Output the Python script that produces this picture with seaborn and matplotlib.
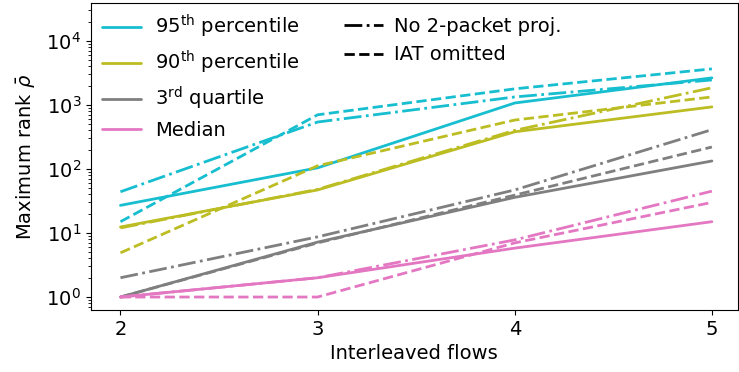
import matplotlib
matplotlib.use("Agg")
import matplotlib.pyplot as plt
from matplotlib.lines import Line2D
import pandas as pd
import seaborn as sns

# values
flows = [2, 3, 4, 5]

p95_full = [27, 104, 1070, 2640]
p95_no2pkt = [44, 540, 1330, 2450]
p95_noiat = [15, 700, 1780, 3650]

p90_full = [12.4, 47, 380, 930]
p90_no2pkt = [12, 48, 400, 1850]
p90_noiat = [4.9, 112, 580, 1330]

q3_full = [1, 7.2, 36, 133]
q3_no2pkt = [2, 8.7, 47, 410]
q3_noiat = [1, 7, 39, 220]

med_full = [1, 2, 5.8, 15]
med_no2pkt = [1, 2, 7.8, 45]
med_noiat = [1, 1, 7, 30]

stats = ["95th percentile", "90th percentile", "3rd quartile", "Median"]
stat_labels = ["95$^{\\mathrm{th}}$ percentile", "90$^{\\mathrm{th}}$ percentile",
               "3$^{\\mathrm{rd}}$ quartile", "Median"]
colors = ["#17becf", "#bcbd22", "#7f7f7f", "#e377c2"]
variants = ["full", "No 2-packet proj.", "IAT omitted"]

series = {
    ("95th percentile", "full"): p95_full,
    ("95th percentile", "No 2-packet proj."): p95_no2pkt,
    ("95th percentile", "IAT omitted"): p95_noiat,
    ("90th percentile", "full"): p90_full,
    ("90th percentile", "No 2-packet proj."): p90_no2pkt,
    ("90th percentile", "IAT omitted"): p90_noiat,
    ("3rd quartile", "full"): q3_full,
    ("3rd quartile", "No 2-packet proj."): q3_no2pkt,
    ("3rd quartile", "IAT omitted"): q3_noiat,
    ("Median", "full"): med_full,
    ("Median", "No 2-packet proj."): med_no2pkt,
    ("Median", "IAT omitted"): med_noiat,
}

rows = []
for (stat, var), vals in series.items():
    for x, v in zip(flows, vals):
        rows.append({"flows": x, "rank": v, "stat": stat, "variant": var})
df = pd.DataFrame(rows)

sns.set_style("ticks", {"axes.edgecolor": "black", "text.color": "black",
                        "axes.labelcolor": "black", "xtick.color": "black",
                        "ytick.color": "black"})
plt.rcParams["font.family"] = ["DejaVu Sans"]
plt.rcParams["xtick.major.size"] = 3.5
plt.rcParams["ytick.major.size"] = 3.5
plt.rcParams["ytick.minor.size"] = 2
plt.rcParams["axes.linewidth"] = 0.8

fig = plt.figure(figsize=(7.39, 3.72), dpi=100)
ax = fig.add_axes([0.123, 0.167, 0.875, 0.825])

dashes = {"full": "", "No 2-packet proj.": (6.4, 1.6, 1, 1.6), "IAT omitted": (3.7, 1.6)}
sns.lineplot(data=df, x="flows", y="rank", hue="stat", style="variant",
             hue_order=stats, style_order=variants, palette=colors,
             dashes=dashes, linewidth=2, legend=False, ax=ax)

ax.set_yscale("log")
ax.set_ylim(0.63, 39000)
ax.set_xlim(1.85, 5.13)
ax.set_xticks(flows)
ax.tick_params(labelsize=14)
ax.set_xlabel("Interleaved flows", fontsize=14)
ax.set_ylabel("Maximum rank $\\bar{\\rho}$", fontsize=14, labelpad=7)
for s in ax.spines.values():
    s.set_visible(True)

h1 = [Line2D([], [], color=c, lw=2) for c in colors]
leg1 = ax.legend(h1, stat_labels, loc="upper left", bbox_to_anchor=(-0.004, 1.012),
                 frameon=False, fontsize=14, handlelength=2.0, handletextpad=0.75,
                 labelspacing=0.45, borderaxespad=0.3)
ax.add_artist(leg1)
h2 = [Line2D([], [], color="black", lw=2, dashes=dashes[v]) for v in variants[1:]]
ax.legend(h2, variants[1:], loc="upper left", bbox_to_anchor=(0.37, 1.0),
          frameon=False, fontsize=14, handlelength=2.0, handletextpad=0.6,
          labelspacing=0.5, borderaxespad=0.3)

fig.savefig("out.png", dpi=100)
